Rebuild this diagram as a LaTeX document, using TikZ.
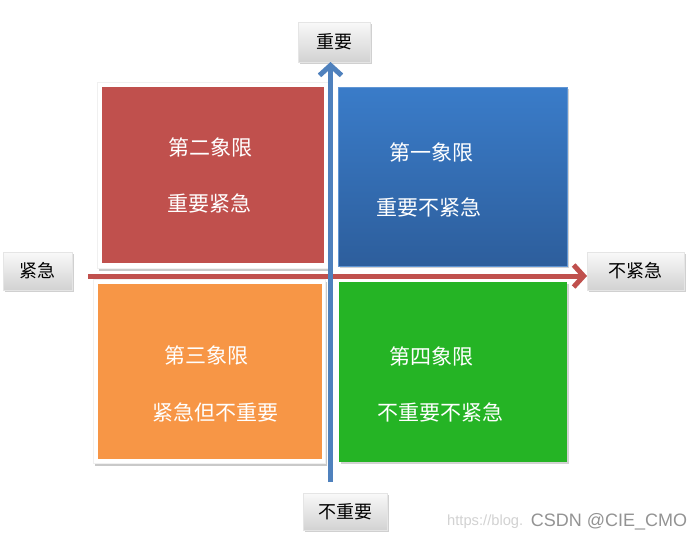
\documentclass[tikz,border=0pt]{standalone}
\usepackage{fontspec}
\setmainfont{Noto Sans CJK SC}
\newfontfamily\wmfont{Liberation Sans}
\usetikzlibrary{arrows.meta,shadows}
\definecolor{qred}{HTML}{C0504D}
\definecolor{qorange}{HTML}{F79646}
\definecolor{qbluetop}{HTML}{3A7CC9}
\definecolor{qbluebot}{HTML}{2D5E9C}
\definecolor{qgreen}{HTML}{25B425}
\definecolor{axblue}{HTML}{4F81BD}
\definecolor{axred}{HTML}{C0504D}
\tikzset{
  lab/.style={rectangle, top color=gray!5, bottom color=gray!35, draw=gray!20, line width=0.4pt,
    drop shadow={shadow xshift=1.5pt, shadow yshift=-2pt, fill=gray!60, opacity=0.6},
    inner sep=0pt, font=\fontsize{18}{22}\selectfont, text=black},
  quad/.style={rectangle, inner sep=0pt,
    drop shadow={shadow xshift=1.5pt, shadow yshift=-2pt, fill=gray!70, opacity=0.5}},
  frame/.style={rectangle, inner sep=0pt, fill=white, draw=gray!12, line width=0.6pt,
    drop shadow={shadow xshift=1.5pt, shadow yshift=-2.5pt, fill=gray!70, opacity=0.6}},
  qtext/.style={inner sep=0pt, text=white, font=\fontsize{21}{25}\selectfont},
  axis/.style={line width=5pt, -{Straight Barb[length=10pt,width=22pt]}},
}
\begin{document}
\begin{tikzpicture}[x=1pt,y=-1pt]
\useasboundingbox[fill=white] (0,0) rectangle (700,542);

% quadrants
\node[frame, minimum width=231pt, minimum height=186pt] (f2) at (212.5,175) {};
\node[rectangle, inner sep=0pt, fill=qred, minimum width=222pt, minimum height=176pt] (q2) at (213,175) {};
\node[frame, minimum width=232pt, minimum height=184pt] (f3) at (209,371) {};
\node[rectangle, inner sep=0pt, fill=qorange, minimum width=224pt, minimum height=175pt] (q3) at (210,371.5) {};
\node[quad, top color=qbluetop, bottom color=qbluebot, draw=qbluetop!80!white, line width=0.5pt, minimum width=229pt, minimum height=179pt] (q1) at (452.5,176.5) {};
\node[quad, fill=qgreen, minimum width=228pt, minimum height=180pt] (q4) at (453,372) {};

% quadrant texts
\node[qtext] (t2a) at (210,147) {第二象限};
\node[qtext] (t2b) at (209.5,203.5) {重要紧急};
\node[qtext] (t1a) at (431,152) {第一象限};
\node[qtext] (t1b) at (428.5,207) {重要不紧急};
\node[qtext] (t3a) at (206.5,355.5) {第三象限};
\node[qtext] (t3b) at (215.5,412) {紧急但不重要};
\node[qtext] (t4a) at (431.5,356.5) {第四象限};
\node[qtext] (t4b) at (440,412) {不重要不紧急};

% labels
\node[lab, minimum width=72pt, minimum height=40pt] (top) at (334,42) {重要};
\node[lab, minimum width=69pt, minimum height=38pt] (left) at (37.5,271) {紧急};
\node[lab, minimum width=97pt, minimum height=38pt] (right) at (635.5,271) {不紧急};
\node[lab, minimum width=84pt, minimum height=37pt] (bottom) at (345,511.5) {不重要};

% axes
\coordinate (hs) at (88,276);
\coordinate (ht) at (587,276);
\coordinate (vs) at (330.5,482);
\coordinate (vt) at (330.5,62);
\draw[axis, axred] (hs) -- (ht);
\draw[axis, axblue] (vs) -- (vt);

% watermark
\node[inner sep=0pt, anchor=west, text=gray!35, font=\wmfont\fontsize{14.7}{17}\selectfont] (url) at (447,522) {https://blog.};
\node[inner sep=0pt, text=gray!85, font=\wmfont\fontsize{18}{21}\selectfont] (wm) at (609,521.5) {CSDN @CIE\_CMO};
\end{tikzpicture}
\end{document}
